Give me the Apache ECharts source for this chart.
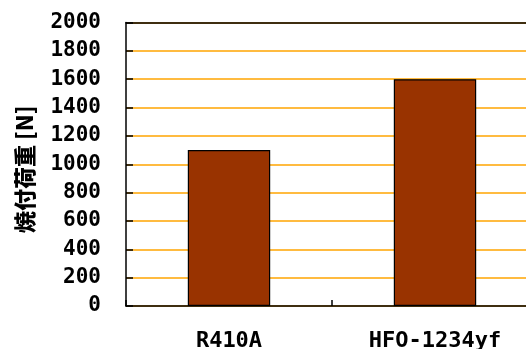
<!DOCTYPE html>
<html><head><meta charset="utf-8">
<script src="https://cdn.jsdelivr.net/npm/echarts@6/dist/echarts.min.js"></script>
<style>html,body{margin:0;padding:0;background:#fff}#c{width:526px;height:349px}</style>
</head><body><div id="c"></div>
<script>
const categories = ['R410A', 'HFO-1234yf'];
const values = [1100, 1600];
const yTicks = [0, 200, 400, 600, 800, 1000, 1200, 1400, 1600, 1800, 2000];
const yName = '焼付荷重 [N]';

const chart = echarts.init(document.getElementById('c'), null, {renderer: 'canvas'});
chart.setOption({
  animation: false,
  backgroundColor: '#ffffff',
  grid: {left: 126, top: 22.5, width: 412, height: 283.5, containLabel: false, outerBoundsMode: 'none'},
  xAxis: [{
    type: 'category', data: categories, position: 'bottom',
    axisLine: {show: true, lineStyle: {color: '#000', width: 1.5}},
    axisTick: {show: true, inside: true, length: 6, alignWithLabel: false, lineStyle: {color: '#000', width: 1.5}},
    axisLabel: {margin: 24, color: '#000', fontFamily: 'DejaVu Sans Mono', fontWeight: 'bold', fontSize: 22},
    splitLine: {show: false}
  }, {
    type: 'category', data: categories, position: 'top',
    axisLine: {show: true, lineStyle: {color: '#000', width: 1.5}},
    axisTick: {show: false}, axisLabel: {show: false}, splitLine: {show: false}
  }],
  yAxis: {
    type: 'value', min: yTicks[0], max: yTicks[yTicks.length - 1], interval: 200,
    name: yName, nameLocation: 'middle', nameGap: 90, nameRotate: 90,
    nameTextStyle: {color: '#000', fontFamily: 'Noto Sans CJK JP', fontWeight: 900, fontSize: 22, padding: [0, 0, 0, -10]},
    axisLine: {show: true, lineStyle: {color: '#000', width: 1.5}},
    axisTick: {show: true, inside: true, length: 7, lineStyle: {color: '#000', width: 1.5}},
    axisLabel: {margin: 25, color: '#000', fontFamily: 'DejaVu Sans Mono', fontWeight: 'bold', fontSize: 21,
      formatter: v => String(v)},
    splitLine: {show: true, lineStyle: {color: '#FFA500', width: 1.5, opacity: 1, type: 'solid'}}
  },
  series: [{
    type: 'bar', data: values, barWidth: '40%', xAxisIndex: 0,
    itemStyle: {color: '#993300', borderColor: '#000', borderWidth: 1.2}
  }]
});
</script></body></html>
